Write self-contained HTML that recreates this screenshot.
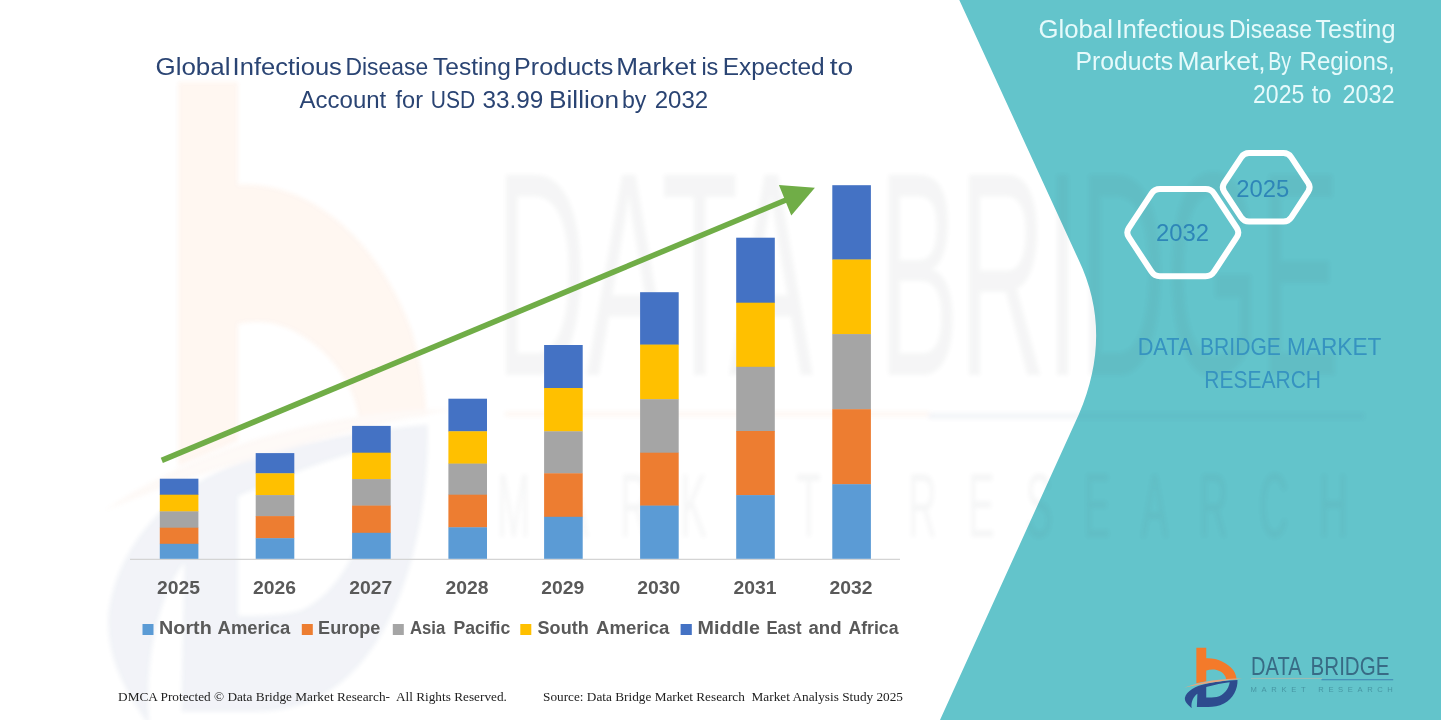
<!DOCTYPE html>
<html><head><meta charset="utf-8"><title>Global Infectious Disease Testing Products Market</title>
<style>
html,body{margin:0;padding:0;background:#fff;}
body{width:1441px;height:720px;overflow:hidden;font-family:"Liberation Sans",sans-serif;}
svg{display:block;}
text{font-family:"Liberation Sans",sans-serif;}
.serif{font-family:"Liberation Serif",serif;}
</style></head><body>
<svg width="1441" height="720" viewBox="0 0 1441 720">
<defs><filter id="wb" x="-5%" y="-5%" width="110%" height="110%"><feGaussianBlur stdDeviation="2.2"/></filter></defs>
<rect width="1441" height="720" fill="#ffffff"/>
<!--WATERMARK-->
<!-- teal panel -->
<path d="M959.3,0 L1078.6,259.8 Q1113.5,333 1079,414 L940,720 L1441,720 L1441,0 Z" fill="#63C4CB"/>
<g opacity="0.065" filter="url(#wb)">
<g transform="matrix(0.632 0 0 1.105 48.5 -0.9)">
<path d="M205,75 L300,75 L300,168 C410,164 520,215 575,300 C590,330 597,355 598,377 L492,385 C489,360 465,330 410,308 C370,292 335,290 300,294 L300,400 L205,423 Z" fill="#F47A2A" opacity="1.5"/>
<path d="M600,385 C603,475 560,570 470,615 C420,640 370,645 320,645 L210,645 L215,510 C180,535 150,590 160,658 C120,625 90,595 95,555 C110,490 200,440 300,420 C400,400 500,390 600,385 Z M300,450 C380,430 460,412 525,405 C515,475 470,535 400,553 C370,558 330,558 300,558 Z" fill="#2D4B8E" fill-rule="evenodd"/>
<path d="M88,463 C250,400 450,373 645,371 C450,391 250,425 88,463 Z" fill="#E8A67E"/>
</g>
<g fill="#50585e" font-size="100px" opacity="0.85">
<text transform="translate(495.5,375) scale(1,2.91)" textLength="317.5" lengthAdjust="spacingAndGlyphs">DATA</text>
<text transform="translate(878.8,375) scale(1,2.91)" textLength="461" lengthAdjust="spacingAndGlyphs">BRIDGE</text>
</g>
<rect x="505" y="411.5" width="425" height="5" fill="#F0904C"/>
<rect x="928" y="413" width="436" height="6" fill="#4a6a98"/>
<g fill="#50585e" font-size="40px" opacity="0.8">
<text transform="translate(497,537) scale(1,2.25)" textLength="324" lengthAdjust="spacing">MARKET</text>
<text transform="translate(908,537) scale(1,2.25)" textLength="440" lengthAdjust="spacing">RESEARCH</text>
</g>
</g>
<!-- title -->
<g fill="#2A4473" font-size="24.4px">
<text x="155.5" y="75" textLength="74.9" lengthAdjust="spacingAndGlyphs">Global</text>
<text x="232.6" y="75" textLength="109.3" lengthAdjust="spacingAndGlyphs">Infectious</text>
<text x="345.5" y="75" textLength="82.6" lengthAdjust="spacingAndGlyphs">Disease</text>
<text x="433.1" y="75" textLength="77.8" lengthAdjust="spacingAndGlyphs">Testing</text>
<text x="514.1" y="75" textLength="99.1" lengthAdjust="spacingAndGlyphs">Products</text>
<text x="616.3" y="75" textLength="79.9" lengthAdjust="spacingAndGlyphs">Market</text>
<text x="701.4" y="75" textLength="17.0" lengthAdjust="spacingAndGlyphs">is</text>
<text x="722.8" y="75" textLength="101.9" lengthAdjust="spacingAndGlyphs">Expected</text>
<text x="829.7" y="75" textLength="23.5" lengthAdjust="spacingAndGlyphs">to</text>
<text x="299.6" y="107.8" textLength="86.7" lengthAdjust="spacingAndGlyphs">Account</text>
<text x="395.6" y="107.8" textLength="27.4" lengthAdjust="spacingAndGlyphs">for</text>
<text x="430.7" y="107.8" textLength="44.4" lengthAdjust="spacingAndGlyphs">USD</text>
<text x="482.6" y="107.8" textLength="60.8" lengthAdjust="spacingAndGlyphs">33.99</text>
<text x="549.0" y="107.8" textLength="70.0" lengthAdjust="spacingAndGlyphs">Billion</text>
<text x="622.0" y="107.8" textLength="24.4" lengthAdjust="spacingAndGlyphs">by</text>
<text x="654.7" y="107.8" textLength="53.5" lengthAdjust="spacingAndGlyphs">2032</text>
</g>
<!-- axis -->
<line x1="130" y1="559.4" x2="900" y2="559.4" stroke="#D4D4D4" stroke-width="1.2"/>
<!-- bars -->
<rect x="159.8" y="478.7" width="38.6" height="16.3" fill="#4472C4"/>
<rect x="159.8" y="494.7" width="38.6" height="17.0" fill="#FFC000"/>
<rect x="159.8" y="511.4" width="38.6" height="16.6" fill="#A5A5A5"/>
<rect x="159.8" y="527.7" width="38.6" height="16.4" fill="#ED7D31"/>
<rect x="159.8" y="543.8" width="38.6" height="15.0" fill="#5B9BD5"/>
<rect x="255.7" y="453.1" width="38.6" height="20.5" fill="#4472C4"/>
<rect x="255.7" y="473.3" width="38.6" height="22.1" fill="#FFC000"/>
<rect x="255.7" y="495.1" width="38.6" height="21.3" fill="#A5A5A5"/>
<rect x="255.7" y="516.1" width="38.6" height="22.4" fill="#ED7D31"/>
<rect x="255.7" y="538.2" width="38.6" height="20.6" fill="#5B9BD5"/>
<rect x="352.1" y="425.9" width="38.6" height="27.1" fill="#4472C4"/>
<rect x="352.1" y="452.7" width="38.6" height="26.7" fill="#FFC000"/>
<rect x="352.1" y="479.1" width="38.6" height="26.8" fill="#A5A5A5"/>
<rect x="352.1" y="505.6" width="38.6" height="27.5" fill="#ED7D31"/>
<rect x="352.1" y="532.8" width="38.6" height="26.0" fill="#5B9BD5"/>
<rect x="448.4" y="398.7" width="38.6" height="32.9" fill="#4472C4"/>
<rect x="448.4" y="431.3" width="38.6" height="32.6" fill="#FFC000"/>
<rect x="448.4" y="463.6" width="38.6" height="31.4" fill="#A5A5A5"/>
<rect x="448.4" y="494.7" width="38.6" height="32.9" fill="#ED7D31"/>
<rect x="448.4" y="527.3" width="38.6" height="31.5" fill="#5B9BD5"/>
<rect x="544.1" y="345.0" width="38.6" height="43.3" fill="#4472C4"/>
<rect x="544.1" y="388.0" width="38.6" height="43.6" fill="#FFC000"/>
<rect x="544.1" y="431.3" width="38.6" height="42.3" fill="#A5A5A5"/>
<rect x="544.1" y="473.3" width="38.6" height="43.8" fill="#ED7D31"/>
<rect x="544.1" y="516.8" width="38.6" height="42.0" fill="#5B9BD5"/>
<rect x="640.1" y="292.2" width="38.6" height="52.7" fill="#4472C4"/>
<rect x="640.1" y="344.6" width="38.6" height="54.9" fill="#FFC000"/>
<rect x="640.1" y="399.2" width="38.6" height="53.8" fill="#A5A5A5"/>
<rect x="640.1" y="452.7" width="38.6" height="53.2" fill="#ED7D31"/>
<rect x="640.1" y="505.6" width="38.6" height="53.2" fill="#5B9BD5"/>
<rect x="736.2" y="237.7" width="38.6" height="65.3" fill="#4472C4"/>
<rect x="736.2" y="302.7" width="38.6" height="64.4" fill="#FFC000"/>
<rect x="736.2" y="366.8" width="38.6" height="64.5" fill="#A5A5A5"/>
<rect x="736.2" y="431.0" width="38.6" height="64.4" fill="#ED7D31"/>
<rect x="736.2" y="495.1" width="38.6" height="63.7" fill="#5B9BD5"/>
<rect x="832.3" y="185.2" width="38.6" height="74.6" fill="#4472C4"/>
<rect x="832.3" y="259.5" width="38.6" height="74.9" fill="#FFC000"/>
<rect x="832.3" y="334.1" width="38.6" height="75.4" fill="#A5A5A5"/>
<rect x="832.3" y="409.2" width="38.6" height="75.3" fill="#ED7D31"/>
<rect x="832.3" y="484.2" width="38.6" height="74.6" fill="#5B9BD5"/>
<!-- arrow -->
<line x1="161.8" y1="460.4" x2="786" y2="200" stroke="#70AD47" stroke-width="5.6"/>
<polygon points="814.9,187.7 778.9,185.1 791.3,215.6" fill="#70AD47"/>
<!-- year labels -->
<g fill="#595959" font-size="17.5px" font-weight="bold">
<text x="178.5" y="594" text-anchor="middle" textLength="43" lengthAdjust="spacingAndGlyphs">2025</text>
<text x="274.4" y="594" text-anchor="middle" textLength="43" lengthAdjust="spacingAndGlyphs">2026</text>
<text x="370.8" y="594" text-anchor="middle" textLength="43" lengthAdjust="spacingAndGlyphs">2027</text>
<text x="467.1" y="594" text-anchor="middle" textLength="43" lengthAdjust="spacingAndGlyphs">2028</text>
<text x="562.8" y="594" text-anchor="middle" textLength="43" lengthAdjust="spacingAndGlyphs">2029</text>
<text x="658.8" y="594" text-anchor="middle" textLength="43" lengthAdjust="spacingAndGlyphs">2030</text>
<text x="754.9" y="594" text-anchor="middle" textLength="43" lengthAdjust="spacingAndGlyphs">2031</text>
<text x="851.0" y="594" text-anchor="middle" textLength="43" lengthAdjust="spacingAndGlyphs">2032</text>
</g>
<!-- legend -->
<g font-size="17.5px" font-weight="bold" fill="#595959">
<rect x="142.5" y="624" width="11" height="11" fill="#5B9BD5"/>
<rect x="301.8" y="624" width="11" height="11" fill="#ED7D31"/>
<rect x="392.8" y="624" width="11" height="11" fill="#A5A5A5"/>
<rect x="520.3" y="624" width="11" height="11" fill="#FFC000"/>
<rect x="680.6" y="624" width="11.2" height="11" fill="#4472C4"/>
<text x="159.1" y="634.4" textLength="52.6" lengthAdjust="spacingAndGlyphs">North</text>
<text x="217.6" y="634.4" textLength="72.7" lengthAdjust="spacingAndGlyphs">America</text>
<text x="318.1" y="634.4" textLength="62.3" lengthAdjust="spacingAndGlyphs">Europe</text>
<text x="409.9" y="634.4" textLength="35.3" lengthAdjust="spacingAndGlyphs">Asia</text>
<text x="453.4" y="634.4" textLength="56.9" lengthAdjust="spacingAndGlyphs">Pacific</text>
<text x="537.6" y="634.4" textLength="51.1" lengthAdjust="spacingAndGlyphs">South</text>
<text x="596.0" y="634.4" textLength="73.4" lengthAdjust="spacingAndGlyphs">America</text>
<text x="697.5" y="634.4" textLength="62.4" lengthAdjust="spacingAndGlyphs">Middle</text>
<text x="766.4" y="634.4" textLength="35.3" lengthAdjust="spacingAndGlyphs">East</text>
<text x="808.5" y="634.4" textLength="33.1" lengthAdjust="spacingAndGlyphs">and</text>
<text x="848.4" y="634.4" textLength="50.1" lengthAdjust="spacingAndGlyphs">Africa</text>
</g>
<!-- footer -->
<g class="serif" font-size="12px" fill="#222">
<text class="serif" x="118.1" y="700.5" textLength="388.8" lengthAdjust="spacingAndGlyphs" xml:space="preserve">DMCA Protected © Data Bridge Market Research-  All Rights Reserved.</text>
<text class="serif" x="543" y="700.5" textLength="360" lengthAdjust="spacingAndGlyphs" xml:space="preserve">Source: Data Bridge Market Research  Market Analysis Study 2025</text>
</g>
<!-- right panel title -->
<g fill="#E6FAFB" font-size="25.4px">
<text x="1038.5" y="37.8" textLength="74.4" lengthAdjust="spacingAndGlyphs">Global</text>
<text x="1115.8" y="37.8" textLength="108.9" lengthAdjust="spacingAndGlyphs">Infectious</text>
<text x="1229.0" y="37.8" textLength="82.9" lengthAdjust="spacingAndGlyphs">Disease</text>
<text x="1315.3" y="37.8" textLength="80.2" lengthAdjust="spacingAndGlyphs">Testing</text>
<text x="1075.5" y="70" textLength="97.7" lengthAdjust="spacingAndGlyphs">Products</text>
<text x="1177.4" y="70" textLength="88.3" lengthAdjust="spacingAndGlyphs">Market,</text>
<text x="1268.2" y="70" textLength="23.0" lengthAdjust="spacingAndGlyphs">By</text>
<text x="1299.5" y="70" textLength="95.2" lengthAdjust="spacingAndGlyphs">Regions,</text>
<text x="1253.0" y="102.5" textLength="51.3" lengthAdjust="spacingAndGlyphs">2025</text>
<text x="1311.7" y="102.5" textLength="19.8" lengthAdjust="spacingAndGlyphs">to</text>
<text x="1342.4" y="102.5" textLength="52.1" lengthAdjust="spacingAndGlyphs">2032</text>
</g>
<!-- hexagons -->
<g fill="none" stroke="#ffffff" stroke-width="6" stroke-linejoin="round">
<path d="M1128.8,237.2 Q1125.8,232.6 1128.8,228.0 L1151.5,193.6 Q1154.5,189.0 1160.0,189.0 L1205.6,189.0 Q1211.1,189.0 1214.1,193.6 L1236.8,228.0 Q1239.8,232.6 1236.8,237.2 L1214.1,271.7 Q1211.1,276.3 1205.6,276.3 L1160.0,276.3 Q1154.5,276.3 1151.5,271.7 Z"/>
<path d="M1224.1,191.5 Q1221.3,187.3 1224.1,183.1 L1241.2,157.3 Q1244.0,153.1 1249.0,153.1 L1283.5,153.1 Q1288.5,153.1 1291.3,157.3 L1308.3,183.1 Q1311.1,187.3 1308.3,191.5 L1291.3,217.3 Q1288.5,221.5 1283.5,221.5 L1249.0,221.5 Q1244.0,221.5 1241.2,217.3 Z"/>
</g>
<g fill="#2E86B8" font-size="23.5px" text-anchor="middle">
<text x="1182.5" y="240.6" textLength="53" lengthAdjust="spacingAndGlyphs">2032</text>
<text x="1262.8" y="197" textLength="53" lengthAdjust="spacingAndGlyphs">2025</text>
</g>
<!-- DBMR text -->
<g fill="#3693C0" font-size="24px">
<text x="1137.7" y="355.2" textLength="54.7" lengthAdjust="spacingAndGlyphs">DATA</text>
<text x="1200.0" y="355.2" textLength="80.9" lengthAdjust="spacingAndGlyphs">BRIDGE</text>
<text x="1287.0" y="355.2" textLength="94.4" lengthAdjust="spacingAndGlyphs">MARKET</text>
<text x="1204.3" y="387.8" textLength="116.7" lengthAdjust="spacingAndGlyphs">RESEARCH</text>
</g>
<g transform="translate(1175,640) scale(0.104167)">
<path d="M205,75 L300,75 L300,175 C400,170 500,215 560,290 C580,320 590,350 590,376 L492,380 C488,340 455,300 400,287 C365,279 330,283 300,292 L300,396 L205,416 Z" fill="#F47A2A"/>
<path d="M600,385 C603,470 560,565 470,610 C420,637 370,642 320,642 L210,642 L215,515 C180,540 150,590 160,655 C120,620 90,590 95,555 C110,490 200,440 300,420 C400,400 500,390 600,385 Z M300,450 C380,430 460,412 525,405 C515,470 470,530 400,547 C370,552 330,552 300,552 Z" fill="#2D4B8E" fill-rule="evenodd"/>
<path d="M88,458 C250,395 450,370 645,370 C450,392 250,422 88,458 Z" fill="#E8A67E"/>
</g>
<g font-size="25.6px" fill="#386B85">
<text x="1251.1" y="675.3" textLength="50.5" lengthAdjust="spacingAndGlyphs">DATA</text>
<text x="1310.6" y="675.3" textLength="78.8" lengthAdjust="spacingAndGlyphs">BRIDGE</text>
</g>
<line x1="1251" y1="678.4" x2="1322" y2="678.4" stroke="#C9B8A4" stroke-width="0.9" opacity="0.7"/>
<line x1="1321.5" y1="679.8" x2="1393.2" y2="679.8" stroke="#3E80B0" stroke-width="1.1"/>
<g font-size="7.6px" fill="#3F8796" opacity="0.75">
<text x="1250.6" y="691.6" textLength="55" lengthAdjust="spacing">MARKET</text>
<text x="1318.3" y="691.6" textLength="74.5" lengthAdjust="spacing">RESEARCH</text>
</g>

</svg>
</body></html>
